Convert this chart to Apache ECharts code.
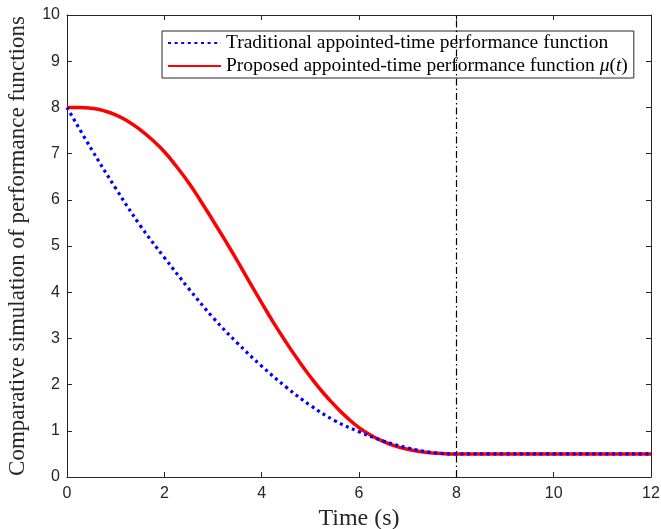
<!DOCTYPE html>
<html>
<head>
<meta charset="utf-8">
<script src="https://cdn.jsdelivr.net/npm/echarts@6/dist/echarts.min.js"></script>
<style>
html,body{margin:0;padding:0;background:#fff;}
#chart{width:661px;height:529px;}
</style>
</head>
<body>
<div id="chart"></div>
<script>
// ---- data ----
const traditionalTimes = [0, 0.5, 1, 1.5, 2, 2.5, 3, 3.5, 4, 4.5, 5, 5.5, 6, 6.5, 7, 7.5, 8, 9, 10, 11, 12];
const traditionalValues = [8.00, 7.10, 6.25, 5.45, 4.75, 4.08, 3.45, 2.90, 2.40, 1.95, 1.55, 1.22, 0.98, 0.78, 0.63, 0.53, 0.50, 0.50, 0.50, 0.50, 0.50];
const proposedTimes = [0, 0.25, 0.5, 0.75, 1, 1.25, 1.5, 1.75, 2, 2.25, 2.5, 2.75, 3, 3.25, 3.5, 3.75, 4, 4.25, 4.5, 4.75, 5, 5.25, 5.5, 5.75, 6, 6.25, 6.5, 6.75, 7, 7.25, 7.5, 7.75, 8, 9, 10, 11, 12];
const proposedValues = [8.00, 8.00, 7.98, 7.93, 7.84, 7.70, 7.52, 7.30, 7.04, 6.72, 6.37, 5.97, 5.55, 5.12, 4.68, 4.22, 3.77, 3.33, 2.92, 2.53, 2.17, 1.84, 1.55, 1.29, 1.07, 0.90, 0.77, 0.67, 0.60, 0.55, 0.52, 0.505, 0.50, 0.50, 0.50, 0.50, 0.50];
const xTicks = [0, 2, 4, 6, 8, 10, 12];
const yTicks = [0, 1, 2, 3, 4, 5, 6, 7, 8, 9, 10];
const deadlineT = 8;
const traditionalName = 'Traditional appointed-time performance function';
const proposedName = 'Proposed appointed-time performance function';
const xTitle = 'Time (s)';
const yTitle = 'Comparative simulation of performance functions';

const pair = (xs, ys) => xs.map((x, i) => [x, ys[i]]);
const axisColor = '#262626';
const serif = '"Liberation Serif", "DejaVu Serif", serif';
const sans = '"Liberation Sans", Arial, sans-serif';

const chart = echarts.init(document.getElementById('chart'), null, {renderer: 'canvas'});
const commonAxis = {
  axisLine: {show: true, onZero: false, lineStyle: {color: axisColor, width: 1}},
  axisTick: {show: true, inside: true, length: 5, lineStyle: {color: axisColor, width: 1}},
  splitLine: {show: false}
};
chart.setOption({
  animation: false,
  backgroundColor: '#ffffff',
  grid: {left: 67, right: 10, top: 15, bottom: 52, containLabel: false, outerBoundsMode: 'none'},
  legend: {
    data: [traditionalName, proposedName],
    left: 162, top: 31,
    orient: 'vertical',
    itemWidth: 53, itemHeight: 10, itemGap: 3,
    padding: [2, 6, 2, 5],
    borderColor: axisColor, borderWidth: 1,
    backgroundColor: '#fff',
    itemStyle: {opacity: 0},
    textStyle: {fontFamily: serif, fontSize: 19.5, color: '#000',
      rich: {
        it: {fontFamily: serif, fontStyle: 'italic', fontSize: 19.5, color: '#000'},
        n: {fontFamily: serif, fontSize: 19.5, color: '#000'}
      }
    },
    formatter: function (name) {
      if (name === proposedName) return '{n|' + name + ' }{it|μ}{n|(}{it|t}{n|)}';
      return name;
    }
  },
  xAxis: [
    Object.assign({}, commonAxis, {
      type: 'value', min: xTicks[0], max: xTicks[xTicks.length - 1], interval: 2,
      position: 'bottom',
      name: xTitle, nameLocation: 'middle', nameGap: 30,
      nameTextStyle: {fontFamily: serif, fontSize: 24, color: axisColor},
      axisLabel: {fontFamily: sans, fontSize: 16, color: axisColor, margin: 9}
    }),
    Object.assign({}, commonAxis, {
      type: 'value', min: xTicks[0], max: xTicks[xTicks.length - 1], interval: 2,
      position: 'top', axisLabel: {show: false}
    })
  ],
  yAxis: [
    Object.assign({}, commonAxis, {
      type: 'value', min: yTicks[0], max: yTicks[yTicks.length - 1], interval: 1,
      position: 'left',
      name: yTitle, nameLocation: 'middle', nameGap: 38, nameRotate: 90,
      nameTextStyle: {fontFamily: serif, fontSize: 23, color: axisColor},
      axisLabel: {fontFamily: sans, fontSize: 16, color: axisColor, margin: 7}
    }),
    Object.assign({}, commonAxis, {
      type: 'value', min: yTicks[0], max: yTicks[yTicks.length - 1], interval: 1,
      position: 'right', axisLabel: {show: false}
    })
  ],
  series: [
    {
      name: proposedName, type: 'line', data: pair(proposedTimes, proposedValues),
      showSymbol: false, symbol: 'none', smooth: 0.5,
      lineStyle: {color: '#ff0000', width: 3.5, type: 'solid'},
      itemStyle: {color: '#ff0000'},
      z: 2,
      markLine: {
        silent: true, symbol: ['none', 'none'], label: {show: false},
        lineStyle: {color: '#000', width: 1.2, type: [7, 3, 1.5, 3]},
        data: [{xAxis: deadlineT}]
      }
    },
    {
      name: traditionalName, type: 'line', data: pair(traditionalTimes, traditionalValues),
      showSymbol: false, symbol: 'none', smooth: 0.4,
      lineStyle: {color: '#0000ff', width: 3.2, type: [3, 3.6]},
      itemStyle: {color: '#0000ff'},
      z: 3
    }
  ]
});
</script>
</body>
</html>
